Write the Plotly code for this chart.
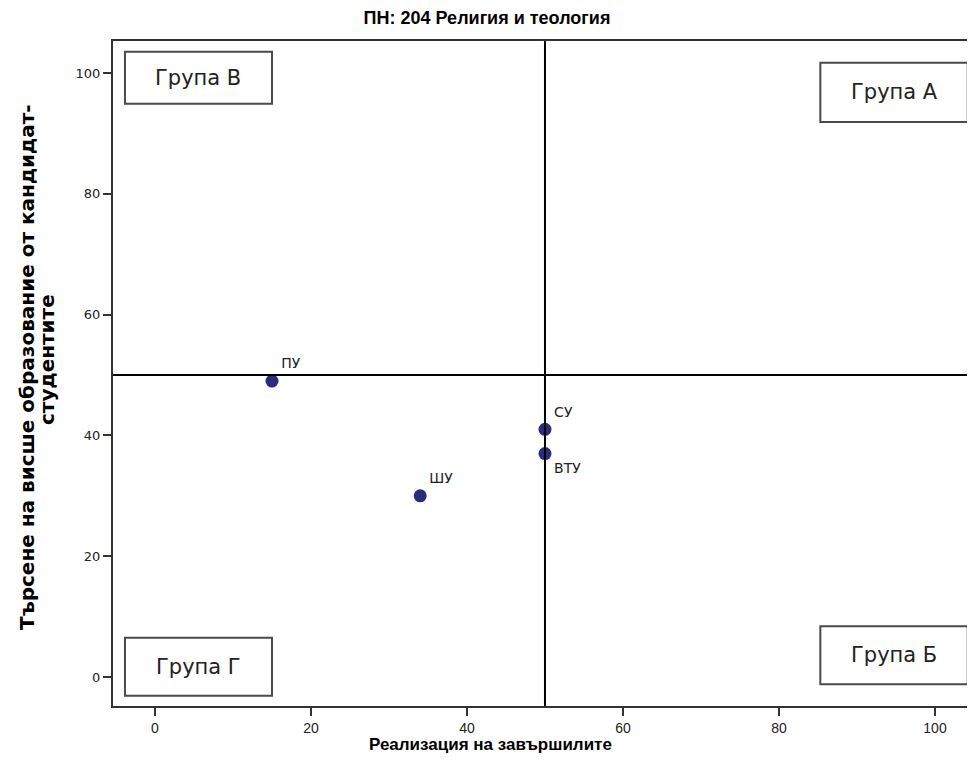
import plotly.graph_objects as go

# Data
universities = ["ПУ", "ШУ", "СУ", "ВТУ"]
realization = [15, 34, 50, 50]
demand = [49, 30, 41, 37]
label_positions = ["top right", "top right", "top right", "bottom right"]

group_labels = ["Група В", "Група А", "Група Г", "Група Б"]
group_x0 = [-3.85, 85.3, -3.85, 85.3]
group_x1 = [15.0, 104.2, 15.0, 104.2]
group_y0 = [94.9, 91.9, -3.1, -1.2]
group_y1 = [103.5, 101.7, 6.5, 8.4]

x_ticks = [0, 20, 40, 60, 80, 100]
y_ticks = [0, 20, 40, 60, 80, 100]

title_text = "ПН: 204 Религия и теология"
x_title = "Реализация на завършилите"
y_title_lines = ["Търсене на висше образование от кандидат-", "студентите"]

# Layout geometry (page has an 8px body margin)
W, H = 967, 766
ml, mr, mt, mb = 105, 0, 33, 68
pw, ph = W - ml - mr, H - mt - mb
OFF = 8


def px_to_paper(X, Y):
    fx, fy = X - OFF, Y - OFF
    return (fx - ml) / pw, (H - mb - fy) / ph


fig = go.Figure()
fig.add_trace(go.Scatter(
    x=realization, y=demand, mode="markers+text",
    text=universities, textposition=label_positions,
    textfont=dict(family="DejaVu Sans", size=14, color="#222"),
    marker=dict(size=13, color="#2B2D7C"),
    cliponaxis=False, showlegend=False, hoverinfo="skip"))

shapes = [
    dict(type="line", xref="x", yref="paper", x0=50, x1=50, y0=0, y1=1,
         line=dict(color="black", width=2)),
    dict(type="line", xref="paper", yref="y", x0=0, x1=1, y0=50, y1=50,
         line=dict(color="black", width=2)),
]
annotations = []
for lab, x0, x1, y0, y1 in zip(group_labels, group_x0, group_x1, group_y0, group_y1):
    shapes.append(dict(type="rect", xref="x", yref="y", x0=x0, x1=x1, y0=y0, y1=y1,
                       line=dict(color="#4a4a4a", width=2), fillcolor="white", layer="above"))
    annotations.append(dict(x=(x0 + x1) / 2, y=(y0 + y1) / 2, xref="x", yref="y",
                            text=lab, showarrow=False,
                            font=dict(family="DejaVu Sans", size=21, color="#222")))

ax, ay = px_to_paper(490, 745)
annotations.append(dict(x=ax, y=ay, xref="paper", yref="paper", text="<b>" + x_title + "</b>",
                        xanchor="center", yanchor="middle",
                        showarrow=False, font=dict(family="Liberation Sans", size=17, color="black")))
for line, (X, Y) in zip(y_title_lines, [(27, 367), (47, 360)]):
    lx, ly = px_to_paper(X, Y)
    annotations.append(dict(x=lx, y=ly, xref="paper", yref="paper", text="<b>" + line + "</b>",
                            xanchor="center", yanchor="middle",
                            textangle=-90, showarrow=False,
                            font=dict(family="DejaVu Sans", size=20, color="black")))

fig.update_layout(
    width=W, height=H,
    margin=dict(l=ml, r=mr, t=mt, b=mb),
    plot_bgcolor="white", paper_bgcolor="white",
    title=dict(text="<b>" + title_text + "</b>", x=(487 - OFF) / W, xref="container", xanchor="center",
               y=1 - (18 - OFF) / H, yref="container", yanchor="middle",
               font=dict(family="Liberation Sans", size=18, color="black")),
    shapes=shapes, annotations=annotations,
)

fig.update_xaxes(range=[-5.385, 105.13], tickvals=x_ticks, showgrid=False, zeroline=False,
                 showline=True, linecolor="#333", linewidth=2, mirror=True,
                 ticks="outside", ticklen=8, tickwidth=2, tickcolor="#333",
                 tickfont=dict(family="Liberation Sans", size=14, color="#222"))
fig.update_yaxes(range=[-4.8, 105.3], tickvals=y_ticks, showgrid=False, zeroline=False,
                 showline=True, linecolor="#333", linewidth=2,
                 ticks="outside", ticklen=8, tickwidth=2, tickcolor="#333",
                 tickfont=dict(family="DejaVu Sans", size=13, color="#222"))

fig.write_html("out.html")
